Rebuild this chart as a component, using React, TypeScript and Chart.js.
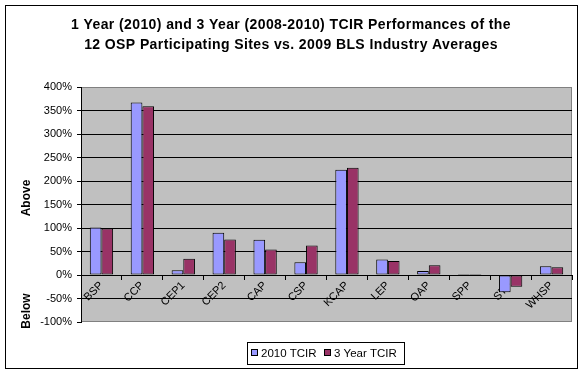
import React, { useEffect, useRef } from "react";
import { Chart, registerables } from "chart.js";

Chart.register(...registerables);

const titleLines = [
  "1 Year (2010) and 3 Year (2008-2010) TCIR Performances of the",
  "12 OSP Participating Sites vs. 2009 BLS Industry Averages",
];
const categories = ["BSP", "CCP", "CEP1", "CEP2", "CAP", "CSP", "KCAP", "LEP", "OAP", "SPP", "STP", "WHSP"];
const tcir2010 = [101, 367, 10, 90, 75, 27, 224, 33, 8.5, 2, -36.7, 18.4];
const tcir3Year = [99, 359, 34.5, 75.5, 54, 63, 228, 30, 20.5, 2, -24.8, 16.3];
const seriesNames = ["2010 TCIR", "3 Year TCIR"];
const seriesColors = ["#9999FF", "#993366"];
const axisTitleAbove = "Above";
const axisTitleBelow = "Below";

const FONT = "Arial, 'Liberation Sans', sans-serif";

const decorPlugin = {
  id: "decor",
  beforeDraw(chart: any) {
    const { ctx, chartArea } = chart;
    ctx.save();
    ctx.fillStyle = "#ffffff";
    ctx.fillRect(0, 0, chart.width, chart.height);
    ctx.fillStyle = "#C0C0C0";
    ctx.fillRect(chartArea.left, chartArea.top, chartArea.right - chartArea.left, chartArea.bottom - chartArea.top);
    ctx.strokeStyle = "#808080";
    ctx.lineWidth = 1;
    ctx.strokeRect(chartArea.left + 0.5, chartArea.top + 0.5, chartArea.right - chartArea.left - 1, chartArea.bottom - chartArea.top - 1);
    ctx.restore();
  },
  afterDraw(chart: any) {
    const { ctx } = chart;
    ctx.save();
    // outer frame
    ctx.strokeStyle = "#000000";
    ctx.lineWidth = 1;
    ctx.strokeRect(5.5, 5.5, 572, 363);
    // title
    ctx.fillStyle = "#000000";
    ctx.font = `bold 14px ${FONT}`;
    try { (ctx as any).letterSpacing = "0.4px"; } catch (e) {}
    ctx.textAlign = "center";
    ctx.textBaseline = "middle";
    ctx.fillText(titleLines[0], 291, 25);
    ctx.fillText(titleLines[1], 291, 45);
    try { (ctx as any).letterSpacing = "0px"; } catch (e) {}
    // axis titles
    ctx.font = `bold 12px ${FONT}`;
    ctx.save();
    ctx.translate(27, 198);
    ctx.rotate(-Math.PI / 2);
    ctx.fillText(axisTitleAbove, 0, 0);
    ctx.restore();
    ctx.save();
    ctx.translate(27, 311);
    ctx.rotate(-Math.PI / 2);
    ctx.fillText(axisTitleBelow, 0, 0);
    ctx.restore();
    // legend
    ctx.strokeRect(247.5, 342.5, 157, 22);
    ctx.font = `11.5px ${FONT}`;
    ctx.textAlign = "left";
    const xs = [251, 324];
    chart.data.datasets.forEach((ds: any, i: number) => {
      ctx.fillStyle = ds.backgroundColor;
      ctx.fillRect(xs[i], 349, 7, 7);
      ctx.strokeStyle = "#000000";
      ctx.strokeRect(xs[i] + 0.5, 349.5, 6, 6);
      ctx.fillStyle = "#000000";
      ctx.fillText(ds.label, xs[i] + 10, 354);
    });
    ctx.restore();
  },
};

export default function App() {
  const ref = useRef<HTMLCanvasElement>(null);
  useEffect(() => {
    document.body.style.margin = "0";
    const canvas = ref.current!;
    const chart = new Chart(canvas, {
      type: "bar",
      data: {
        labels: categories,
        datasets: [
          { label: seriesNames[0], data: tcir2010, backgroundColor: seriesColors[0], borderColor: "#000000", borderWidth: 1, borderSkipped: false },
          { label: seriesNames[1], data: tcir3Year, backgroundColor: seriesColors[1], borderColor: "#000000", borderWidth: 1, borderSkipped: false },
        ],
      },
      options: {
        responsive: false,
        animation: false,
        devicePixelRatio: 1,
        layout: { padding: { left: 0, top: 87, right: 14, bottom: 52 } },
        plugins: { legend: { display: false }, title: { display: false }, tooltip: { enabled: false } },
        datasets: { bar: { categoryPercentage: 0.57, barPercentage: 1.0 } },
        scales: {
          x: {
            position: { y: 0 } as any,
            grid: { offset: true, drawOnChartArea: false, drawTicks: true, tickLength: 4, tickColor: "#000000", color: "#000000" },
            border: { display: true, color: "#000000", width: 1 },
            ticks: { minRotation: 45, maxRotation: 45, autoSkip: false, color: "#000000", font: { family: FONT, size: 11 }, padding: 0 },
          },
          y: {
            min: -100,
            max: 400,
            afterFit: (s: any) => { s.width = 81; },
            grid: {
              color: (c: any) => (c.tick && (c.tick.value === 400 || c.tick.value === -100) ? "rgba(0,0,0,0)" : "#000000"),
              tickColor: "#000000",
              tickLength: 4,
              drawTicks: true,
            },
            border: { display: true, color: "#000000", width: 1 },
            ticks: { stepSize: 50, color: "#000000", font: { family: FONT, size: 11 }, padding: 5, callback: (v: any) => `${v}%` },
          },
        },
      },
      plugins: [decorPlugin],
    });
    return () => chart.destroy();
  }, []);
  return <canvas ref={ref} width={586} height={374} style={{ display: "block" }} />;
}
